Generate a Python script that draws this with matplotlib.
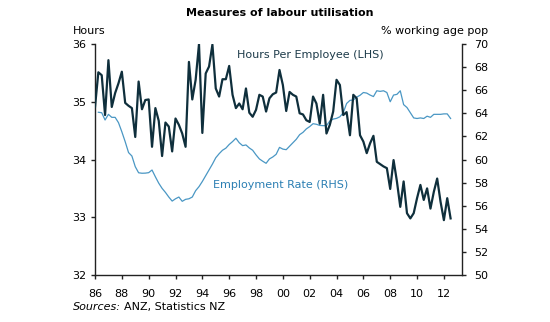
import numpy as np
from matplotlib import pyplot as plt

# quarterly observations, first one is 1986 Q1
start_year = 1986.0
hours_per_employee = [
    34.91, 35.51, 35.46, 34.77, 35.72, 34.91, 35.15, 35.32, 35.52, 34.98,
    34.93, 34.89, 34.39, 35.35, 34.87, 35.03, 35.04, 34.22, 34.89, 34.67,
    34.06, 34.64, 34.57, 34.14, 34.71, 34.60, 34.45, 34.22, 35.69, 35.04,
    35.38, 36.00, 34.46, 35.49, 35.61, 35.99, 35.23, 35.09, 35.39, 35.39,
    35.62, 35.12, 34.89, 34.97, 34.87, 35.23, 34.81, 34.74, 34.86, 35.12,
    35.09, 34.83, 35.06, 35.13, 35.16, 35.55, 35.29, 34.84, 35.17, 35.12,
    35.09, 34.80, 34.78, 34.68, 34.65, 35.09, 34.97, 34.62, 35.12, 34.45,
    34.60, 34.83, 35.38, 35.29, 34.77, 34.82, 34.42, 35.12, 35.06, 34.42,
    34.31, 34.11, 34.28, 34.41, 33.96, 33.92, 33.88, 33.85, 33.49, 33.99,
    33.62, 33.18, 33.62, 33.07, 32.98, 33.07, 33.33, 33.56, 33.30, 33.50,
    33.15, 33.44, 33.67, 33.27, 32.95, 33.33, 32.98,
]
# employment rate starts one quarter later (1986 Q2)
employment_rate = [
    64.09, 64.05, 63.42, 63.91, 63.65, 63.65, 63.19, 62.40, 61.54, 60.60,
    60.30, 59.38, 58.85, 58.81, 58.82, 58.86, 59.09, 58.50, 57.95, 57.50,
    57.15, 56.75, 56.40, 56.60, 56.75, 56.38, 56.55, 56.60, 56.75, 57.30,
    57.65, 58.10, 58.60, 59.10, 59.60, 60.15, 60.50, 60.80, 60.98, 61.30,
    61.55, 61.84, 61.45, 61.20, 61.26, 61.00, 60.80, 60.40, 60.05, 59.85,
    59.67, 60.05, 60.22, 60.45, 61.05, 60.90, 60.85, 61.15, 61.45, 61.75,
    62.15, 62.35, 62.65, 62.85, 63.10, 63.05, 62.95, 62.93, 62.93, 63.33,
    63.50, 63.56, 63.70, 64.05, 64.85, 65.12, 65.15, 65.40, 65.56, 65.80,
    65.75, 65.58, 65.45, 65.95, 65.90, 65.95, 65.80, 65.00, 65.58, 65.64,
    65.95, 64.75, 64.50, 64.05, 63.60, 63.55, 63.60, 63.55, 63.75, 63.65,
    63.91, 63.91, 63.91, 63.95, 63.95, 63.55,
]
year_ticks = list(range(1986, 2013, 2))
hours_ticks = [32, 33, 34, 35, 36]
rate_ticks = list(range(50, 71, 2))

dark = '#0f2f3c'
light = '#4a97c4'

plt.rcParams['font.family'] = 'DejaVu Sans'
plt.rcParams['font.size'] = 8

fig = plt.figure(figsize=(5.5, 3.22), dpi=100)
ax = fig.add_axes([95 / 550, 1 - 275 / 322, 367 / 550, 231 / 322])
ax2 = ax.twinx()

t_hours = start_year + np.arange(len(hours_per_employee)) / 4
t_rate = start_year + (np.arange(len(employment_rate)) + 1) / 4

ax.plot(t_hours, hours_per_employee, color=dark, lw=1.6, zorder=3)
ax2.plot(t_rate, employment_rate, color=light, lw=0.9)
ax.set_zorder(ax2.get_zorder() + 1)
ax.patch.set_visible(False)

ax.set_xlim(1986, 2013.35)
ax.set_ylim(32, 36)
ax2.set_ylim(50, 70)
ax.set_xticks(year_ticks)
ax.set_xticklabels(['%02d' % (y % 100) for y in year_ticks])
ax.set_yticks(hours_ticks)
ax2.set_yticks(rate_ticks)

for a in (ax, ax2):
    a.spines['top'].set_visible(False)
    for s in a.spines.values():
        s.set_color('#222222')
        s.set_linewidth(1.0)
    a.tick_params(direction='out', length=3, width=1, colors='#222222', labelcolor='black')
ax.spines['right'].set_visible(False)
ax2.spines['left'].set_visible(False)
ax2.spines['bottom'].set_visible(False)
ax.tick_params(axis='x', pad=7)
ax.tick_params(axis='y', pad=3)
ax2.tick_params(axis='y', pad=6)

fig.text(280 / 550, 1 - 13 / 322, 'Measures of labour utilisation', ha='center', va='center',
         fontweight='bold', fontsize=8)
fig.text(73 / 550, 1 - 31 / 322, 'Hours', ha='left', va='center')
fig.text(488 / 550, 1 - 31 / 322, '% working age pop', ha='right', va='center')
fig.text(237 / 550, 1 - 55 / 322, 'Hours Per Employee (LHS)', ha='left', va='center', color='#1d3b4a')
fig.text(213 / 550, 1 - 185 / 322, 'Employment Rate (RHS)', ha='left', va='center', color='#2b7fb3')
fig.text(73 / 550, 1 - 307 / 322, 'Sources:', ha='left', va='center', style='italic')
fig.text(124 / 550, 1 - 307 / 322, 'ANZ, Statistics NZ', ha='left', va='center')

fig.savefig('out.png', dpi=100)
